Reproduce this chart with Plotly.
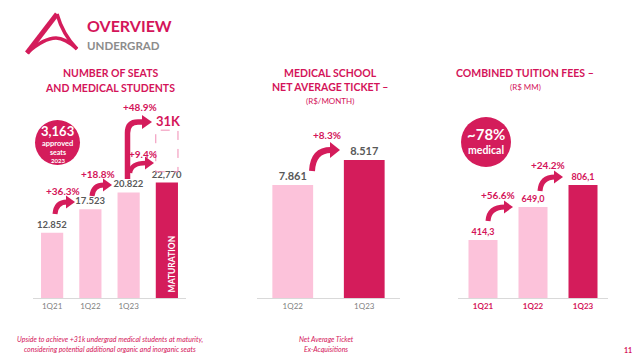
import plotly.graph_objects as go
import math

W, H = 640, 357
MAG = "#D4145A"
DARK = "#D41C5B"
LIGHT = "#FCC2DA"
GREY = "#595959"
LGREY = "#7F7F7F"

# ---- data ----
seat_periods = ["1Q21", "1Q22", "1Q23", "MAT"]
seat_values = [12852, 17523, 20822, 22770]
seat_labels = ["12.852", "17.523", "20.822", "22,770"]
seat_target = 31000
seat_growth = ["+36.3%", "+18.8%", "+48.9%", "+9.4%"]

ticket_periods = ["1Q22", "1Q23"]
ticket_values = [7861, 8517]
ticket_labels = ["7.861", "8.517"]
ticket_growth = ["+8.3%"]

fee_periods = ["1Q21", "1Q22", "1Q23"]
fee_values = [414.3, 649.0, 806.1]
fee_labels = ["414,3", "649,0", "806,1"]
fee_growth = ["+56.6%", "+24.2%"]

FONT = "Lato"

def fx(x):
    return x / W

def fy(y):
    return 1 - y / H

def pt(x, y):
    return f"{fx(x):.5f},{fy(y):.5f}"

fig = go.Figure()

fig.add_trace(go.Bar(
    x=seat_periods, y=seat_values, text=seat_labels, textposition="outside",
    marker=dict(color=[LIGHT, LIGHT, LIGHT, DARK], line=dict(width=0)),
    width=0.58, xaxis="x", yaxis="y", cliponaxis=False, constraintext="none",
    outsidetextfont=dict(family=FONT, size=9.5, color=GREY),
    texttemplate="<b>%{text}</b>", hoverinfo="skip"))
fig.add_trace(go.Bar(
    x=ticket_periods, y=ticket_values, text=ticket_labels, textposition="outside",
    marker=dict(color=[LIGHT, DARK], line=dict(width=0)),
    width=0.57, xaxis="x2", yaxis="y2", cliponaxis=False, constraintext="none",
    outsidetextfont=dict(family=FONT, size=11, color=GREY),
    texttemplate="<b>%{text}</b>", hoverinfo="skip"))
fig.add_trace(go.Bar(
    x=fee_periods, y=fee_values, text=fee_labels, textposition="outside",
    marker=dict(color=[LIGHT, LIGHT, DARK], line=dict(width=0)),
    width=0.58, xaxis="x3", yaxis="y3", cliponaxis=False, constraintext="none",
    outsidetextfont=dict(family=FONT, size=9, color=MAG),
    texttemplate="<b>%{text}</b>", hoverinfo="skip"))

ybot = fy(298)
ytop = fy(100)

axis_common = dict(showline=True, linecolor="#D9D9D9", linewidth=1, ticks="",
                   showgrid=False, zeroline=False, fixedrange=True)
yaxis_common = dict(visible=False, showgrid=False, zeroline=False, fixedrange=True)

fig.update_layout(
    width=W, height=H, margin=dict(l=0, r=0, t=0, b=0),
    paper_bgcolor="white", plot_bgcolor="rgba(0,0,0,0)", showlegend=False,
    xaxis=dict(domain=[fx(33), fx(186)], range=[-0.5, 3.5], anchor="y",
               tickvals=[0, 1, 2], ticktext=seat_periods[:3],
               tickfont=dict(family=FONT, size=8, color=LGREY), **axis_common),
    yaxis=dict(domain=[ybot, ytop], range=[0, 39050], anchor="x", **yaxis_common),
    xaxis2=dict(domain=[fx(257), fx(400)], range=[-0.5, 1.5], anchor="y2",
                tickfont=dict(family=FONT, size=8, color=LGREY), **axis_common),
    yaxis2=dict(domain=[ybot, ytop], range=[4895, 10092], anchor="x2", **yaxis_common),
    xaxis3=dict(domain=[fx(458), fx(608)], range=[-0.5, 2.5], anchor="y3",
                tickvals=[0, 1, 2], ticktext=["<b>" + p + "</b>" for p in fee_periods],
                tickfont=dict(family=FONT, size=8, color=MAG), **axis_common),
    yaxis3=dict(domain=[ybot, ytop], range=[0, 1414], anchor="x3", **yaxis_common),
)

shapes = []
annos = []

def text(x, y, s, size, color=MAG, bold=True, italic=False, xanchor="center", family=FONT):
    t = s
    if bold:
        t = f"<b>{t}</b>"
    if italic:
        t = f"<i>{t}</i>"
    annos.append(dict(x=fx(x), y=fy(y), xref="paper", yref="paper", text=t,
                      showarrow=False, xanchor=xanchor, yanchor="middle",
                      font=dict(family=family, size=size, color=color)))

def stroke(path, width, color=DARK):
    shapes.append(dict(type="path", xref="paper", yref="paper", path=path,
                       line=dict(color=color, width=width), fillcolor="rgba(0,0,0,0)"))

def head(p1, d, head_len=8, head_w=11, color=DARK):
    dx, dy = d
    n = math.hypot(dx, dy)
    dx, dy = dx / n, dy / n
    tip = (p1[0] + dx * head_len, p1[1] + dy * head_len)
    px_, py_ = -dy, dx
    a = (p1[0] + px_ * head_w / 2, p1[1] + py_ * head_w / 2)
    b = (p1[0] - px_ * head_w / 2, p1[1] - py_ * head_w / 2)
    shapes.append(dict(type="path", xref="paper", yref="paper",
                       path=f"M {pt(*a)} L {pt(*tip)} L {pt(*b)} Z",
                       line=dict(color=color, width=0), fillcolor=color))

def arrow(p0, tip, width=5, head_len=9, head_w=13, color=DARK):
    p1 = (tip[0] - head_len, tip[1])
    c = (p0[0] + 1, p1[1])
    stroke(f"M {pt(*p0)} Q {pt(*c)} {pt(p1[0] + 1, p1[1])}", width, color)
    head(p1, (1, 0), head_len, head_w, color)

# ---- header: logo ----
stroke(f"M {pt(27,53)} L {pt(57,14)}", 5)
stroke(f"M {pt(57,14)} Q {pt(63,35)} {pt(77,49)}", 3.5)
stroke(f"M {pt(27,53)} Q {pt(44,38)} {pt(56,38)} Q {pt(65,38)} {pt(77,49)}", 3.5)
text(85, 26, "OVERVIEW", 16, MAG, xanchor="left")
text(85, 45, "UNDERGRAD", 11.5, "#8C8C8C", xanchor="left")

# ---- titles ----
text(110, 73, "NUMBER OF SEATS", 10.5)
text(110, 88, "AND MEDICAL STUDENTS", 10.5)
text(330, 73, "MEDICAL SCHOOL", 10.5)
text(330, 87, "NET AVERAGE TICKET –", 10.5)
text(330, 101, "(R$/MONTH)", 8, bold=False)
text(525, 73, "COMBINED TUITION FEES –", 10.5)
text(525, 87, "(R$ MM)", 8, bold=False)

# ---- circles ----
shapes.append(dict(type="circle", xref="paper", yref="paper",
                   x0=fx(35), x1=fx(80), y0=fy(120), y1=fy(165),
                   line=dict(width=0), fillcolor=DARK))
text(57.5, 131, "3,163", 13, "white")
text(57.5, 143.5, "approved", 7.5, "white")
text(57.5, 152, "seats", 7, "white")
text(57.5, 160.5, "2023", 6, "white")

shapes.append(dict(type="circle", xref="paper", yref="paper",
                   x0=fx(461), x1=fx(511), y0=fy(117), y1=fy(167),
                   line=dict(width=0), fillcolor=DARK))
text(486, 134, "~78%", 15, "white")
text(486, 150, "medical", 10.5, "white")

# ---- left chart decorations ----
shapes.append(dict(type="rect", xref="x", yref="y", x0=3 - 0.29, x1=3 + 0.29,
                   y0=24900, y1=33100, line=dict(color="#F08CB4", width=1, dash="dash"),
                   fillcolor="rgba(0,0,0,0)"))
annos.append(dict(x=3, y=0, xref="x", yref="y", text="<b>MATURATION</b>", textangle=-90,
                  showarrow=False, yanchor="bottom", xanchor="center", yshift=4, xshift=5,
                  font=dict(family=FONT, size=8.5, color="white")))
text(168, 121, "31K", 13, MAG)
text(63, 191, seat_growth[0], 10, MAG)
text(98, 174, seat_growth[1], 10, MAG)
text(140, 107, seat_growth[2], 10, MAG)
text(143, 154, seat_growth[3], 10, MAG)

arrow((55, 214), (75, 202))
arrow((92, 196), (112, 185))
stroke(f"M {pt(127.5,179)} L {pt(127.5,133)} Q {pt(127.5,122)} {pt(138,122)} L {pt(143,122)}", 5.5)
head((142, 122), (1, 0), head_len=10, head_w=14)
arrow((130, 173), (154, 163), width=4.5)

# ---- middle ----
text(327, 135, ticket_growth[0], 10, MAG)
arrow((312, 171), (340, 150), width=6, head_len=10, head_w=16)

# ---- right ----
text(498, 195, fee_growth[0], 10, MAG)
arrow((488, 221), (513, 207))
text(548, 165, fee_growth[1], 10, MAG)
arrow((540, 191), (563, 177))

# ---- footnotes ----
text(110, 339, "Upside to achieve +31k undergrad medical students at maturity,", 7, MAG,
     bold=False, italic=True)
text(110, 349, "considering potential additional organic and inorganic seats", 7, MAG,
     bold=False, italic=True)
text(326, 339, "Net Average Ticket", 7, MAG, bold=False, italic=True)
text(326, 349, "Ex-Acquisitions", 7, MAG, bold=False, italic=True)
text(628, 350, "11", 7, MAG)

fig.update_layout(shapes=shapes, annotations=annos)
fig.write_html("out.html", config={"displayModeBar": False},
               post_script="document.body.style.margin='0';document.body.style.overflow='hidden';")
